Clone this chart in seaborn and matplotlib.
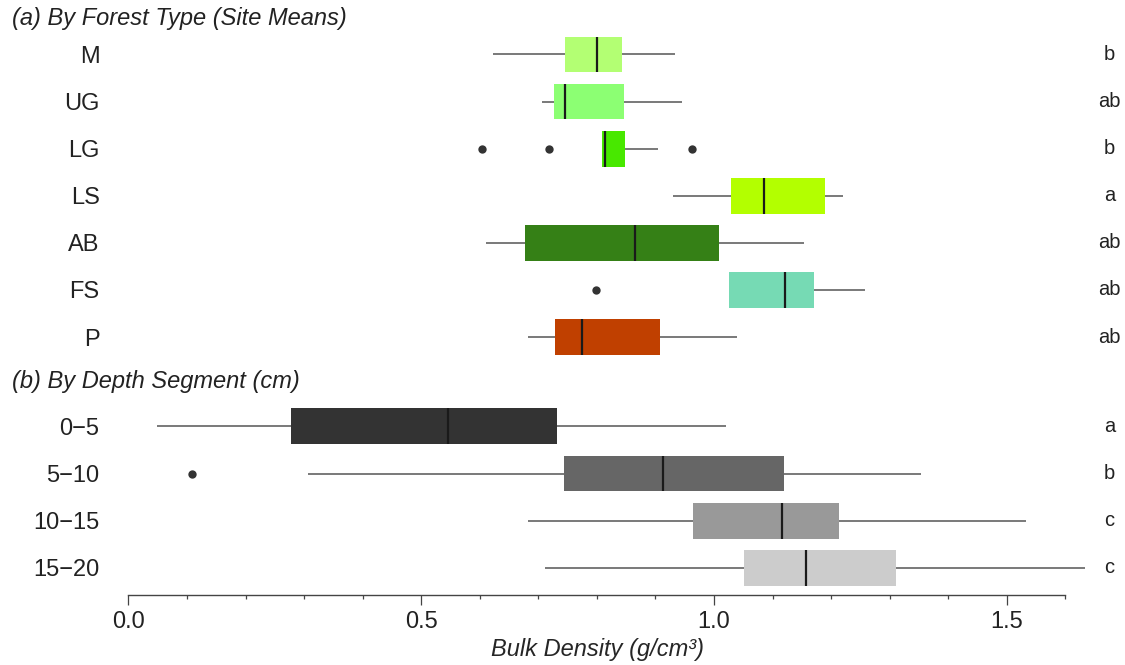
import numpy as np
import pandas as pd
import seaborn as sns
import matplotlib.pyplot as plt
import matplotlib.transforms as mtransforms
from matplotlib.ticker import FixedLocator

# (a) forest types - five number summaries
forest_types = ["M", "UG", "LG", "LS", "AB", "FS", "P"]
forest_low = [0.622, 0.707, 0.809, 0.930, 0.611, 1.025, 0.683]
forest_q1 = [0.745, 0.726, 0.809, 1.029, 0.678, 1.025, 0.729]
forest_med = [0.800, 0.745, 0.813, 1.086, 0.865, 1.121, 0.774]
forest_q3 = [0.842, 0.846, 0.848, 1.189, 1.009, 1.170, 0.907]
forest_high = [0.933, 0.945, 0.904, 1.221, 1.154, 1.258, 1.040]
forest_out_type = ["LG", "LG", "LG", "FS"]
forest_out_val = [0.603, 0.718, 0.963, 0.798]
forest_letters = ["b", "ab", "b", "a", "ab", "ab", "ab"]
forest_colors = ["#B3FF73", "#8CFF73", "#48E800", "#B3FF00", "#358016", "#76DAB4", "#C04000"]

# (b) depth segments
depth_segs = ["0\u22125", "5\u221210", "10\u221215", "15\u221220"]
depth_low = [0.048, 0.307, 0.682, 0.712]
depth_q1 = [0.277, 0.744, 0.964, 1.052]
depth_med = [0.545, 0.912, 1.116, 1.157]
depth_q3 = [0.732, 1.120, 1.214, 1.311]
depth_high = [1.020, 1.354, 1.532, 1.633]
depth_out_seg = ["5\u221210"]
depth_out_val = [0.108]
depth_letters = ["a", "b", "c", "c"]
depth_colors = ["#333333", "#666666", "#999999", "#CCCCCC"]

sns.set_style("white")
plt.rcParams['font.family'] = ['Liberation Sans', 'DejaVu Sans']
plt.rcParams['text.color'] = '#222222'


def tabla(grupos, low, q1, med, q3, high):
    filas = []
    for g, a, b, c, d, e in zip(grupos, low, q1, med, q3, high):
        for v in (a, b, c, d, e):
            filas.append([g, v])
    return pd.DataFrame(filas, columns=["grupo", "bd"])


def panel(ax, df, orden, colores, out_g, out_v, letras, y_abajo):
    sns.boxplot(data=df, x="bd", y="grupo", hue="grupo", order=orden, hue_order=orden,
                palette=dict(zip(orden, colores)), saturation=1, legend=False,
                width=0.76, whis=(0, 100), showcaps=False, linecolor="#555555",
                linewidth=1.1, boxprops=dict(linewidth=0),
                medianprops=dict(color="#1a1a1a", linewidth=1.6), ax=ax)
    sns.stripplot(x=out_v, y=out_g, order=orden, jitter=False, color="#333333",
                  size=6, ax=ax)
    ax.set_xlim(-0.016, 1.695)
    ax.set_ylim(y_abajo, -0.5)
    ax.set_xlabel("")
    ax.set_ylabel("")
    for s in ["left", "top", "right"]:
        ax.spines[s].set_visible(False)
    ax.tick_params(axis="y", length=0, pad=14, labelsize=17, labelcolor="#222222")
    trans = mtransforms.blended_transform_factory(ax.transAxes, ax.transData)
    for i, l in enumerate(letras):
        ax.text(0.9885, i, l, transform=trans, ha="center", va="center", fontsize=14.5)


fig = plt.figure(figsize=(11.25, 6.65), dpi=100)
ax1 = fig.add_axes([0.1058, 0.4577, 0.8907, 0.4959])
ax2 = fig.add_axes([0.1058, 0.1053, 0.8907, 0.2892])

panel(ax1, tabla(forest_types, forest_low, forest_q1, forest_med, forest_q3, forest_high),
      forest_types, forest_colors, forest_out_type, forest_out_val, forest_letters, 6.5)
panel(ax2, tabla(depth_segs, depth_low, depth_q1, depth_med, depth_q3, depth_high),
      depth_segs, depth_colors, depth_out_seg, depth_out_val, depth_letters, 3.572)

# top panel has no x axis
ax1.spines["bottom"].set_visible(False)
ax1.tick_params(axis="x", bottom=False, labelbottom=False)

# bottom axis: R style, line only from 0 to 1.6
ax2.spines["bottom"].set_bounds(0, 1.6)
ax2.spines["bottom"].set_color("#444444")
ax2.spines["bottom"].set_linewidth(1)
ax2.xaxis.set_major_locator(FixedLocator([0, 0.5, 1.0, 1.5]))
ax2.set_xticklabels(["0.0", "0.5", "1.0", "1.5"])
ax2.xaxis.set_minor_locator(FixedLocator([0.1, 0.2, 0.3, 0.4, 0.6, 0.7, 0.8, 0.9,
                                          1.1, 1.2, 1.3, 1.4, 1.6]))
ax2.tick_params(axis="x", which="both", bottom=True, direction="out", color="#444444", width=0.9)
ax2.tick_params(axis="x", which="major", length=7.5, pad=4, labelsize=17, labelcolor="#222222")
ax2.tick_params(axis="x", which="minor", length=3)
ax2.set_xlabel("Bulk Density (g/cm\u00b3)", fontsize=17, style="italic", va="center")
ax2.xaxis.set_label_coords((597 - 119) / 1002, -55 / 192.3)

fig.text(12.5 / 1125, 1 - 25.5 / 665, "(a) By Forest Type (Site Means)", style="italic",
         fontsize=17, va="baseline")
fig.text(12.5 / 1125, 1 - 387.5 / 665, "(b) By Depth Segment (cm)", style="italic",
         fontsize=17, va="baseline")

fig.savefig("out.png", dpi=100)
